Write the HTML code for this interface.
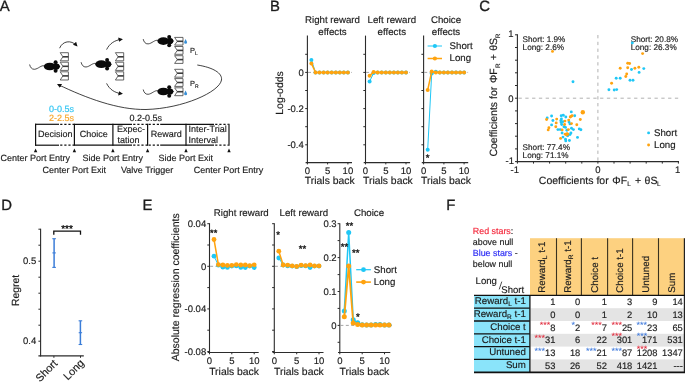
<!DOCTYPE html>
<html lang="en">
<head>
<meta charset="utf-8">
<title>Figure</title>
<style>
html,body{margin:0;padding:0;background:#fff;}
body{width:685px;height:382px;overflow:hidden;font-family:"Liberation Sans",sans-serif;}
svg{display:block;}
svg text{font-family:"Liberation Sans",sans-serif;text-rendering:geometricPrecision;stroke-width:0.2px;stroke-opacity:0.8;}
</style>
</head>
<body>
<svg width="685" height="382" viewBox="0 0 685 382">
<rect x="0" y="0" width="685" height="382" fill="#ffffff"/>
<text x="-0.2" y="10.7" font-size="14.9" text-anchor="start" fill="#1c1c1c" stroke="#1c1c1c" style="stroke-width:0.4px;stroke-opacity:0.8">A</text>
<text x="269.9" y="10.7" font-size="14.9" text-anchor="start" fill="#1c1c1c" stroke="#1c1c1c" style="stroke-width:0.4px;stroke-opacity:0.8">B</text>
<text x="479.2" y="10.7" font-size="14.9" text-anchor="start" fill="#1c1c1c" stroke="#1c1c1c" style="stroke-width:0.4px;stroke-opacity:0.8">C</text>
<text x="1.3" y="210.1" font-size="14.9" text-anchor="start" fill="#1c1c1c" stroke="#1c1c1c" style="stroke-width:0.4px;stroke-opacity:0.8">D</text>
<text x="142.6" y="210.1" font-size="14.9" text-anchor="start" fill="#1c1c1c" stroke="#1c1c1c" style="stroke-width:0.4px;stroke-opacity:0.8">E</text>
<text x="446.3" y="210.1" font-size="14.9" text-anchor="start" fill="#1c1c1c" stroke="#1c1c1c" style="stroke-width:0.4px;stroke-opacity:0.8">F</text>
<path d="M60.2,52.7 L68.4,52.7 L68.4,60.8 L60.2,60.8 L62.9,56.8 Z" stroke="#4a4a4a" stroke-width="0.85" fill="#fff" stroke-linejoin="miter"/>
<line x1="62.7" y1="56.8" x2="68.4" y2="56.8" stroke="#3a3a3a" stroke-width="1.6"/>
<path d="M60.2,62.2 L68.4,62.2 L68.4,70.4 L60.2,70.4 L62.9,66.3 Z" stroke="#4a4a4a" stroke-width="0.85" fill="#fff" stroke-linejoin="miter"/>
<line x1="62.7" y1="66.3" x2="68.4" y2="66.3" stroke="#3a3a3a" stroke-width="1.6"/>
<path d="M60.2,71.8 L68.4,71.8 L68.4,80.0 L60.2,80.0 L62.9,75.9 Z" stroke="#4a4a4a" stroke-width="0.85" fill="#fff" stroke-linejoin="miter"/>
<line x1="62.7" y1="75.9" x2="68.4" y2="75.9" stroke="#3a3a3a" stroke-width="1.6"/>
<path d="M115.4,52.7 L123.7,52.7 L123.7,60.8 L115.4,60.8 L118.1,56.8 Z" stroke="#4a4a4a" stroke-width="0.85" fill="#fff" stroke-linejoin="miter"/>
<line x1="117.9" y1="56.8" x2="123.7" y2="56.8" stroke="#3a3a3a" stroke-width="1.6"/>
<path d="M115.4,62.2 L123.7,62.2 L123.7,70.4 L115.4,70.4 L118.1,66.3 Z" stroke="#4a4a4a" stroke-width="0.85" fill="#fff" stroke-linejoin="miter"/>
<line x1="117.9" y1="66.3" x2="123.7" y2="66.3" stroke="#3a3a3a" stroke-width="1.6"/>
<path d="M115.4,71.8 L123.7,71.8 L123.7,80.0 L115.4,80.0 L118.1,75.9 Z" stroke="#4a4a4a" stroke-width="0.85" fill="#fff" stroke-linejoin="miter"/>
<line x1="117.9" y1="75.9" x2="123.7" y2="75.9" stroke="#3a3a3a" stroke-width="1.6"/>
<path d="M174.6,37.4 L183.0,37.4 L183.0,45.1 L174.6,45.1 L177.3,41.3 Z" stroke="#4a4a4a" stroke-width="0.85" fill="#fff" stroke-linejoin="miter"/>
<line x1="177.1" y1="41.3" x2="183.0" y2="41.3" stroke="#3a3a3a" stroke-width="1.6"/>
<path d="M174.6,46.5 L183.0,46.5 L183.0,54.3 L174.6,54.3 L177.3,50.4 Z" stroke="#4a4a4a" stroke-width="0.85" fill="#fff" stroke-linejoin="miter"/>
<line x1="177.1" y1="50.4" x2="183.0" y2="50.4" stroke="#3a3a3a" stroke-width="1.6"/>
<path d="M174.6,55.7 L183.0,55.7 L183.0,63.4 L174.6,63.4 L177.3,59.6 Z" stroke="#4a4a4a" stroke-width="0.85" fill="#fff" stroke-linejoin="miter"/>
<line x1="177.1" y1="59.6" x2="183.0" y2="59.6" stroke="#3a3a3a" stroke-width="1.6"/>
<path d="M174.6,69.3 L183.0,69.3 L183.0,77.2 L174.6,77.2 L177.3,73.2 Z" stroke="#4a4a4a" stroke-width="0.85" fill="#fff" stroke-linejoin="miter"/>
<line x1="177.1" y1="73.2" x2="183.0" y2="73.2" stroke="#3a3a3a" stroke-width="1.6"/>
<path d="M174.6,78.6 L183.0,78.6 L183.0,86.4 L174.6,86.4 L177.3,82.5 Z" stroke="#4a4a4a" stroke-width="0.85" fill="#fff" stroke-linejoin="miter"/>
<line x1="177.1" y1="82.5" x2="183.0" y2="82.5" stroke="#3a3a3a" stroke-width="1.6"/>
<path d="M174.6,87.8 L183.0,87.8 L183.0,95.7 L174.6,95.7 L177.3,91.7 Z" stroke="#4a4a4a" stroke-width="0.85" fill="#fff" stroke-linejoin="miter"/>
<line x1="177.1" y1="91.7" x2="183.0" y2="91.7" stroke="#3a3a3a" stroke-width="1.6"/>
<g transform="translate(44.0,66.5)">
<path d="M0.6,-0.7 C-3,-1.6 -5.5,2.4 -9.5,2.8 C-12.3,3 -13.8,0.6 -14.4,-2.0" stroke="#111" stroke-width="0.75" fill="none"/>
<ellipse cx="5.8" cy="0" rx="6.0" ry="3.85" fill="#0a0a0a"/>
<ellipse cx="12.3" cy="0" rx="3.4" ry="3.1" fill="#0a0a0a"/>
<circle cx="11.6" cy="-4.2" r="2.0" fill="#0a0a0a"/>
<circle cx="11.6" cy="4.2" r="2.0" fill="#0a0a0a"/>
<path d="M13.5,-2.8 L16.3,0 L13.5,2.8 Z" fill="#0a0a0a"/>
</g>
<g transform="translate(95.5,64.2)">
<path d="M0.6,-0.7 C-3,-1.6 -5.5,2.4 -9.5,2.8 C-12.3,3 -13.8,0.6 -14.4,-2.0" stroke="#111" stroke-width="0.75" fill="none"/>
<ellipse cx="5.8" cy="0" rx="6.0" ry="3.85" fill="#0a0a0a"/>
<ellipse cx="12.3" cy="0" rx="3.4" ry="3.1" fill="#0a0a0a"/>
<circle cx="11.6" cy="-4.2" r="2.0" fill="#0a0a0a"/>
<circle cx="11.6" cy="4.2" r="2.0" fill="#0a0a0a"/>
<path d="M13.5,-2.8 L16.3,0 L13.5,2.8 Z" fill="#0a0a0a"/>
</g>
<g transform="translate(157.6,41.1)">
<path d="M0.6,-0.7 C-3,-1.6 -5.5,2.4 -9.5,2.8 C-12.3,3 -13.8,0.6 -14.4,-2.0" stroke="#111" stroke-width="0.75" fill="none"/>
<ellipse cx="5.8" cy="0" rx="6.0" ry="3.85" fill="#0a0a0a"/>
<ellipse cx="12.3" cy="0" rx="3.4" ry="3.1" fill="#0a0a0a"/>
<circle cx="11.6" cy="-4.2" r="2.0" fill="#0a0a0a"/>
<circle cx="11.6" cy="4.2" r="2.0" fill="#0a0a0a"/>
<path d="M13.5,-2.8 L16.3,0 L13.5,2.8 Z" fill="#0a0a0a"/>
</g>
<g transform="translate(157.6,91.5)">
<path d="M0.6,-0.7 C-3,-1.6 -5.5,2.4 -9.5,2.8 C-12.3,3 -13.8,0.6 -14.4,-2.0" stroke="#111" stroke-width="0.75" fill="none"/>
<ellipse cx="5.8" cy="0" rx="6.0" ry="3.85" fill="#0a0a0a"/>
<ellipse cx="12.3" cy="0" rx="3.4" ry="3.1" fill="#0a0a0a"/>
<circle cx="11.6" cy="-4.2" r="2.0" fill="#0a0a0a"/>
<circle cx="11.6" cy="4.2" r="2.0" fill="#0a0a0a"/>
<path d="M13.5,-2.8 L16.3,0 L13.5,2.8 Z" fill="#0a0a0a"/>
</g>
<defs><marker id="ah" viewBox="0 0 10 10" refX="7" refY="5" markerWidth="5.6" markerHeight="5.6" orient="auto"><path d="M0,0 L10,5 L0,10 Z" fill="#111"/></marker></defs>
<path d="M59.6,48.2 C62.5,41 71,39.5 76.6,45.6" stroke="#111" stroke-width="0.8" fill="none" marker-end="url(#ah)"/>
<path d="M106.6,49.6 C109.5,43.5 115,40 121.6,39.4" stroke="#111" stroke-width="0.8" fill="none" marker-end="url(#ah)"/>
<path d="M106.6,83.4 C109.5,89.5 115,93 121.6,93.6" stroke="#111" stroke-width="0.8" fill="none" marker-end="url(#ah)"/>
<path d="M197.3,65 C213,67.5 222.5,73 221.5,80 C219.5,92 183,108.5 146,109.5 C118,110 86,98 58.2,84.6" stroke="#111" stroke-width="0.8" fill="none" marker-end="url(#ah)"/>
<path d="M185.6,38.9 C186.2,40.5 187.1,41.3 187.1,42.2 A1.5,1.5 0 1 1 184.1,42.2 C184.1,41.3 185.0,40.5 185.6,38.9 Z" fill="#3A90D6"/>
<path d="M185.6,90.4 C186.2,92.0 187.1,92.8 187.1,93.7 A1.5,1.5 0 1 1 184.1,93.7 C184.1,92.8 185.0,92.0 185.6,90.4 Z" fill="#3A90D6"/>
<text x="190.1" y="53.2" font-size="7.4" text-anchor="start" fill="#1c1c1c" stroke="#1c1c1c">P<tspan font-size="5" dy="1.9">L</tspan></text>
<text x="190.1" y="85.7" font-size="7.4" text-anchor="start" fill="#1c1c1c" stroke="#1c1c1c">P<tspan font-size="5" dy="1.9">R</tspan></text>
<text x="49.0" y="111.6" font-size="9.0" text-anchor="start" fill="#2EC4F3" stroke="#2EC4F3">0-0.5s</text>
<text x="49.0" y="120.8" font-size="9.0" text-anchor="start" fill="#F7A72B" stroke="#F7A72B">2-2.5s</text>
<text x="129.5" y="120.8" font-size="9.0" text-anchor="start" fill="#1c1c1c" stroke="#1c1c1c">0.2-0.5s</text>
<line x1="35.0" y1="124.3" x2="59.0" y2="124.3" stroke="#111" stroke-width="1.2"/>
<line x1="60.2" y1="124.3" x2="74.4" y2="124.3" stroke="#111" stroke-width="1.2" stroke-dasharray="2.2 1.9"/>
<line x1="74.4" y1="124.3" x2="132.0" y2="124.3" stroke="#111" stroke-width="1.2"/>
<line x1="133.2" y1="124.3" x2="147.5" y2="124.3" stroke="#111" stroke-width="1.2" stroke-dasharray="2.2 1.9"/>
<line x1="148.6" y1="124.3" x2="160.2" y2="124.3" stroke="#111" stroke-width="1.2" stroke-dasharray="2.2 1.9"/>
<line x1="160.2" y1="124.3" x2="214.0" y2="124.3" stroke="#111" stroke-width="1.2"/>
<line x1="215.2" y1="124.3" x2="228.6" y2="124.3" stroke="#111" stroke-width="1.2" stroke-dasharray="2.2 1.9"/>
<line x1="35.0" y1="145.2" x2="59.0" y2="145.2" stroke="#111" stroke-width="1.2"/>
<line x1="60.2" y1="145.2" x2="74.4" y2="145.2" stroke="#111" stroke-width="1.2" stroke-dasharray="2.2 1.9"/>
<line x1="74.4" y1="145.2" x2="132.0" y2="145.2" stroke="#111" stroke-width="1.2"/>
<line x1="133.2" y1="145.2" x2="147.5" y2="145.2" stroke="#111" stroke-width="1.2" stroke-dasharray="2.2 1.9"/>
<line x1="148.6" y1="145.2" x2="160.2" y2="145.2" stroke="#111" stroke-width="1.2" stroke-dasharray="2.2 1.9"/>
<line x1="160.2" y1="145.2" x2="214.0" y2="145.2" stroke="#111" stroke-width="1.2"/>
<line x1="215.2" y1="145.2" x2="228.6" y2="145.2" stroke="#111" stroke-width="1.2" stroke-dasharray="2.2 1.9"/>
<line x1="35.6" y1="123.7" x2="35.6" y2="145.8" stroke="#111" stroke-width="1.2"/>
<path d="M35.6,148.4 L37.3,152.3 L33.9,152.3 Z" fill="#111"/>
<line x1="74.4" y1="123.7" x2="74.4" y2="145.8" stroke="#111" stroke-width="1.2"/>
<path d="M74.4,148.4 L76.1,152.3 L72.7,152.3 Z" fill="#111"/>
<line x1="112.9" y1="123.7" x2="112.9" y2="145.8" stroke="#111" stroke-width="1.2"/>
<path d="M112.9,148.4 L114.6,152.3 L111.2,152.3 Z" fill="#111"/>
<line x1="147.6" y1="123.7" x2="147.6" y2="145.8" stroke="#111" stroke-width="1.2"/>
<path d="M147.6,148.4 L149.3,152.3 L145.9,152.3 Z" fill="#111"/>
<line x1="186.0" y1="123.7" x2="186.0" y2="145.8" stroke="#111" stroke-width="1.2"/>
<path d="M186.0,148.4 L187.7,152.3 L184.3,152.3 Z" fill="#111"/>
<line x1="229.0" y1="123.7" x2="229.0" y2="145.8" stroke="#111" stroke-width="1.2"/>
<path d="M229.0,148.4 L230.7,152.3 L227.3,152.3 Z" fill="#111"/>
<text x="38.0" y="137.4" font-size="9.0" text-anchor="start" fill="#1c1c1c" stroke="#1c1c1c">Decision</text>
<text x="79.8" y="137.4" font-size="9.0" text-anchor="start" fill="#1c1c1c" stroke="#1c1c1c">Choice</text>
<text x="117.0" y="132.0" font-size="9.0" text-anchor="start" fill="#1c1c1c" stroke="#1c1c1c">Expec-</text>
<text x="117.4" y="142.5" font-size="9.0" text-anchor="start" fill="#1c1c1c" stroke="#1c1c1c">tation</text>
<text x="150.7" y="137.4" font-size="9.0" text-anchor="start" fill="#1c1c1c" stroke="#1c1c1c">Reward</text>
<text x="188.6" y="132.0" font-size="9.0" text-anchor="start" fill="#1c1c1c" stroke="#1c1c1c">Inter-Trial</text>
<text x="188.6" y="142.5" font-size="9.0" text-anchor="start" fill="#1c1c1c" stroke="#1c1c1c">Interval</text>
<text x="0.6" y="160.5" font-size="9.0" text-anchor="start" fill="#1c1c1c" stroke="#1c1c1c">Center Port Entry</text>
<text x="82.6" y="160.5" font-size="9.0" text-anchor="start" fill="#1c1c1c" stroke="#1c1c1c">Side Port Entry</text>
<text x="158.6" y="160.5" font-size="9.0" text-anchor="start" fill="#1c1c1c" stroke="#1c1c1c">Side Port Exit</text>
<text x="42.5" y="173.4" font-size="9.0" text-anchor="start" fill="#1c1c1c" stroke="#1c1c1c">Center Port Exit</text>
<text x="121.0" y="173.4" font-size="9.0" text-anchor="start" fill="#1c1c1c" stroke="#1c1c1c">Valve Trigger</text>
<text x="193.8" y="173.4" font-size="9.0" text-anchor="start" fill="#1c1c1c" stroke="#1c1c1c">Center Port Entry</text>
<text x="332.5" y="22.6" font-size="9.7" text-anchor="middle" fill="#1c1c1c" stroke="#1c1c1c">Right reward</text>
<text x="332.5" y="34.6" font-size="9.7" text-anchor="middle" fill="#1c1c1c" stroke="#1c1c1c">effects</text>
<text x="391.8" y="22.6" font-size="9.7" text-anchor="middle" fill="#1c1c1c" stroke="#1c1c1c">Left reward</text>
<text x="391.8" y="34.6" font-size="9.7" text-anchor="middle" fill="#1c1c1c" stroke="#1c1c1c">effects</text>
<text x="446.0" y="22.6" font-size="9.7" text-anchor="middle" fill="#1c1c1c" stroke="#1c1c1c">Choice</text>
<text x="446.0" y="34.6" font-size="9.7" text-anchor="middle" fill="#1c1c1c" stroke="#1c1c1c">effects</text>
<text transform="translate(283.0,93.0) rotate(-90)" font-size="10.4" text-anchor="middle" fill="#1c1c1c" stroke="#1c1c1c">Log-odds</text>
<line x1="307.4" y1="35.6" x2="307.4" y2="163.2" stroke="#2b2b2b" stroke-width="1.1"/>
<line x1="305.6" y1="162.6" x2="352.0" y2="162.6" stroke="#2b2b2b" stroke-width="1.1"/>
<line x1="305.2" y1="54.3" x2="307.4" y2="54.3" stroke="#2b2b2b" stroke-width="1.0"/>
<line x1="305.2" y1="72.4" x2="307.4" y2="72.4" stroke="#2b2b2b" stroke-width="1.0"/>
<line x1="305.2" y1="90.5" x2="307.4" y2="90.5" stroke="#2b2b2b" stroke-width="1.0"/>
<line x1="305.2" y1="108.6" x2="307.4" y2="108.6" stroke="#2b2b2b" stroke-width="1.0"/>
<line x1="305.2" y1="126.7" x2="307.4" y2="126.7" stroke="#2b2b2b" stroke-width="1.0"/>
<line x1="305.2" y1="144.8" x2="307.4" y2="144.8" stroke="#2b2b2b" stroke-width="1.0"/>
<line x1="307.4" y1="162.6" x2="307.4" y2="164.4" stroke="#2b2b2b" stroke-width="1.0"/>
<text x="307.4" y="174.3" font-size="9.5" text-anchor="middle" fill="#1c1c1c" stroke="#1c1c1c">0</text>
<line x1="327.6" y1="162.6" x2="327.6" y2="164.4" stroke="#2b2b2b" stroke-width="1.0"/>
<text x="327.6" y="174.3" font-size="9.5" text-anchor="middle" fill="#1c1c1c" stroke="#1c1c1c">5</text>
<line x1="347.9" y1="162.6" x2="347.9" y2="164.4" stroke="#2b2b2b" stroke-width="1.0"/>
<text x="347.9" y="174.3" font-size="9.5" text-anchor="middle" fill="#1c1c1c" stroke="#1c1c1c">10</text>
<text x="329.8" y="184.4" font-size="10.4" text-anchor="middle" fill="#1c1c1c" stroke="#1c1c1c">Trials back</text>
<line x1="308.0" y1="72.4" x2="351.9" y2="72.4" stroke="#9a9a9a" stroke-width="0.9" stroke-dasharray="3 2.4"/>
<text x="303.8" y="75.7" font-size="9.5" text-anchor="end" fill="#1c1c1c" stroke="#1c1c1c">0</text>
<text x="303.8" y="111.9" font-size="9.5" text-anchor="end" fill="#1c1c1c" stroke="#1c1c1c">-0.2</text>
<text x="303.8" y="148.1" font-size="9.5" text-anchor="end" fill="#1c1c1c" stroke="#1c1c1c">-0.4</text>
<path d="M311.4,59.9 L315.5,72.4 L319.5,72.4 L323.6,72.4 L327.6,72.4 L331.7,72.4 L335.8,72.4 L339.8,72.4 L343.8,72.4 L347.9,72.4" stroke="#1FC7F6" stroke-width="1.0" fill="none" stroke-linejoin="round"/>
<circle cx="311.4" cy="59.9" r="2.0" fill="#1FC7F6"/>
<circle cx="315.5" cy="72.4" r="2.0" fill="#1FC7F6"/>
<circle cx="319.5" cy="72.4" r="2.0" fill="#1FC7F6"/>
<circle cx="323.6" cy="72.4" r="2.0" fill="#1FC7F6"/>
<circle cx="327.6" cy="72.4" r="2.0" fill="#1FC7F6"/>
<circle cx="331.7" cy="72.4" r="2.0" fill="#1FC7F6"/>
<circle cx="335.8" cy="72.4" r="2.0" fill="#1FC7F6"/>
<circle cx="339.8" cy="72.4" r="2.0" fill="#1FC7F6"/>
<circle cx="343.8" cy="72.4" r="2.0" fill="#1FC7F6"/>
<circle cx="347.9" cy="72.4" r="2.0" fill="#1FC7F6"/>
<path d="M311.4,63.4 L315.5,72.4 L319.5,72.4 L323.6,72.4 L327.6,72.4 L331.7,72.4 L335.8,72.4 L339.8,72.4 L343.8,72.4 L347.9,72.4" stroke="#FFA30F" stroke-width="1.5" fill="none" stroke-linejoin="round"/>
<circle cx="311.4" cy="63.4" r="2.0" fill="#FFA30F"/>
<circle cx="315.5" cy="72.4" r="2.0" fill="#FFA30F"/>
<circle cx="319.5" cy="72.4" r="2.0" fill="#FFA30F"/>
<circle cx="323.6" cy="72.4" r="2.0" fill="#FFA30F"/>
<circle cx="327.6" cy="72.4" r="2.0" fill="#FFA30F"/>
<circle cx="331.7" cy="72.4" r="2.0" fill="#FFA30F"/>
<circle cx="335.8" cy="72.4" r="2.0" fill="#FFA30F"/>
<circle cx="339.8" cy="72.4" r="2.0" fill="#FFA30F"/>
<circle cx="343.8" cy="72.4" r="2.0" fill="#FFA30F"/>
<circle cx="347.9" cy="72.4" r="2.0" fill="#FFA30F"/>
<line x1="365.5" y1="35.6" x2="365.5" y2="163.2" stroke="#2b2b2b" stroke-width="1.1"/>
<line x1="363.7" y1="162.6" x2="410.1" y2="162.6" stroke="#2b2b2b" stroke-width="1.1"/>
<line x1="363.3" y1="54.3" x2="365.5" y2="54.3" stroke="#2b2b2b" stroke-width="1.0"/>
<line x1="363.3" y1="72.4" x2="365.5" y2="72.4" stroke="#2b2b2b" stroke-width="1.0"/>
<line x1="363.3" y1="90.5" x2="365.5" y2="90.5" stroke="#2b2b2b" stroke-width="1.0"/>
<line x1="363.3" y1="108.6" x2="365.5" y2="108.6" stroke="#2b2b2b" stroke-width="1.0"/>
<line x1="363.3" y1="126.7" x2="365.5" y2="126.7" stroke="#2b2b2b" stroke-width="1.0"/>
<line x1="363.3" y1="144.8" x2="365.5" y2="144.8" stroke="#2b2b2b" stroke-width="1.0"/>
<line x1="365.5" y1="162.6" x2="365.5" y2="164.4" stroke="#2b2b2b" stroke-width="1.0"/>
<text x="365.5" y="174.3" font-size="9.5" text-anchor="middle" fill="#1c1c1c" stroke="#1c1c1c">0</text>
<line x1="385.8" y1="162.6" x2="385.8" y2="164.4" stroke="#2b2b2b" stroke-width="1.0"/>
<text x="385.8" y="174.3" font-size="9.5" text-anchor="middle" fill="#1c1c1c" stroke="#1c1c1c">5</text>
<line x1="406.0" y1="162.6" x2="406.0" y2="164.4" stroke="#2b2b2b" stroke-width="1.0"/>
<text x="406.0" y="174.3" font-size="9.5" text-anchor="middle" fill="#1c1c1c" stroke="#1c1c1c">10</text>
<text x="387.9" y="184.4" font-size="10.4" text-anchor="middle" fill="#1c1c1c" stroke="#1c1c1c">Trials back</text>
<line x1="366.1" y1="72.4" x2="410.0" y2="72.4" stroke="#9a9a9a" stroke-width="0.9" stroke-dasharray="3 2.4"/>
<path d="M369.6,81.5 L373.6,73.1 L377.6,72.4 L381.7,72.4 L385.8,72.4 L389.8,72.4 L393.9,72.4 L397.9,72.4 L401.9,72.4 L406.0,72.4" stroke="#1FC7F6" stroke-width="1.0" fill="none" stroke-linejoin="round"/>
<circle cx="369.6" cy="81.5" r="2.0" fill="#1FC7F6"/>
<circle cx="373.6" cy="73.1" r="2.0" fill="#1FC7F6"/>
<circle cx="377.6" cy="72.4" r="2.0" fill="#1FC7F6"/>
<circle cx="381.7" cy="72.4" r="2.0" fill="#1FC7F6"/>
<circle cx="385.8" cy="72.4" r="2.0" fill="#1FC7F6"/>
<circle cx="389.8" cy="72.4" r="2.0" fill="#1FC7F6"/>
<circle cx="393.9" cy="72.4" r="2.0" fill="#1FC7F6"/>
<circle cx="397.9" cy="72.4" r="2.0" fill="#1FC7F6"/>
<circle cx="401.9" cy="72.4" r="2.0" fill="#1FC7F6"/>
<circle cx="406.0" cy="72.4" r="2.0" fill="#1FC7F6"/>
<path d="M369.6,75.8 L373.6,71.9 L377.6,72.4 L381.7,72.4 L385.8,72.4 L389.8,72.4 L393.9,72.4 L397.9,72.4 L401.9,72.4 L406.0,72.4" stroke="#FFA30F" stroke-width="1.5" fill="none" stroke-linejoin="round"/>
<circle cx="369.6" cy="75.8" r="2.0" fill="#FFA30F"/>
<circle cx="373.6" cy="71.9" r="2.0" fill="#FFA30F"/>
<circle cx="377.6" cy="72.4" r="2.0" fill="#FFA30F"/>
<circle cx="381.7" cy="72.4" r="2.0" fill="#FFA30F"/>
<circle cx="385.8" cy="72.4" r="2.0" fill="#FFA30F"/>
<circle cx="389.8" cy="72.4" r="2.0" fill="#FFA30F"/>
<circle cx="393.9" cy="72.4" r="2.0" fill="#FFA30F"/>
<circle cx="397.9" cy="72.4" r="2.0" fill="#FFA30F"/>
<circle cx="401.9" cy="72.4" r="2.0" fill="#FFA30F"/>
<circle cx="406.0" cy="72.4" r="2.0" fill="#FFA30F"/>
<line x1="423.6" y1="35.6" x2="423.6" y2="163.2" stroke="#2b2b2b" stroke-width="1.1"/>
<line x1="421.8" y1="162.6" x2="468.2" y2="162.6" stroke="#2b2b2b" stroke-width="1.1"/>
<line x1="421.4" y1="54.3" x2="423.6" y2="54.3" stroke="#2b2b2b" stroke-width="1.0"/>
<line x1="421.4" y1="72.4" x2="423.6" y2="72.4" stroke="#2b2b2b" stroke-width="1.0"/>
<line x1="421.4" y1="90.5" x2="423.6" y2="90.5" stroke="#2b2b2b" stroke-width="1.0"/>
<line x1="421.4" y1="108.6" x2="423.6" y2="108.6" stroke="#2b2b2b" stroke-width="1.0"/>
<line x1="421.4" y1="126.7" x2="423.6" y2="126.7" stroke="#2b2b2b" stroke-width="1.0"/>
<line x1="421.4" y1="144.8" x2="423.6" y2="144.8" stroke="#2b2b2b" stroke-width="1.0"/>
<line x1="423.6" y1="162.6" x2="423.6" y2="164.4" stroke="#2b2b2b" stroke-width="1.0"/>
<text x="423.6" y="174.3" font-size="9.5" text-anchor="middle" fill="#1c1c1c" stroke="#1c1c1c">0</text>
<line x1="443.9" y1="162.6" x2="443.9" y2="164.4" stroke="#2b2b2b" stroke-width="1.0"/>
<text x="443.9" y="174.3" font-size="9.5" text-anchor="middle" fill="#1c1c1c" stroke="#1c1c1c">5</text>
<line x1="464.1" y1="162.6" x2="464.1" y2="164.4" stroke="#2b2b2b" stroke-width="1.0"/>
<text x="464.1" y="174.3" font-size="9.5" text-anchor="middle" fill="#1c1c1c" stroke="#1c1c1c">10</text>
<text x="446.0" y="184.4" font-size="10.4" text-anchor="middle" fill="#1c1c1c" stroke="#1c1c1c">Trials back</text>
<line x1="424.2" y1="72.4" x2="468.1" y2="72.4" stroke="#9a9a9a" stroke-width="0.9" stroke-dasharray="3 2.4"/>
<path d="M427.7,149.7 L431.7,73.5 L435.8,71.7 L439.8,72.4 L443.9,72.4 L447.9,72.4 L452.0,72.4 L456.0,72.4 L460.1,72.4 L464.1,72.4" stroke="#1FC7F6" stroke-width="1.0" fill="none" stroke-linejoin="round"/>
<circle cx="427.7" cy="149.7" r="2.0" fill="#1FC7F6"/>
<circle cx="431.7" cy="73.5" r="2.0" fill="#1FC7F6"/>
<circle cx="435.8" cy="71.7" r="2.0" fill="#1FC7F6"/>
<circle cx="439.8" cy="72.4" r="2.0" fill="#1FC7F6"/>
<circle cx="443.9" cy="72.4" r="2.0" fill="#1FC7F6"/>
<circle cx="447.9" cy="72.4" r="2.0" fill="#1FC7F6"/>
<circle cx="452.0" cy="72.4" r="2.0" fill="#1FC7F6"/>
<circle cx="456.0" cy="72.4" r="2.0" fill="#1FC7F6"/>
<circle cx="460.1" cy="72.4" r="2.0" fill="#1FC7F6"/>
<circle cx="464.1" cy="72.4" r="2.0" fill="#1FC7F6"/>
<path d="M427.7,90.0 L431.7,71.5 L435.8,72.4 L439.8,72.4 L443.9,72.4 L447.9,72.4 L452.0,72.4 L456.0,72.4 L460.1,72.4 L464.1,72.4" stroke="#FFA30F" stroke-width="1.5" fill="none" stroke-linejoin="round"/>
<circle cx="427.7" cy="90.0" r="2.0" fill="#FFA30F"/>
<circle cx="431.7" cy="71.5" r="2.0" fill="#FFA30F"/>
<circle cx="435.8" cy="72.4" r="2.0" fill="#FFA30F"/>
<circle cx="439.8" cy="72.4" r="2.0" fill="#FFA30F"/>
<circle cx="443.9" cy="72.4" r="2.0" fill="#FFA30F"/>
<circle cx="447.9" cy="72.4" r="2.0" fill="#FFA30F"/>
<circle cx="452.0" cy="72.4" r="2.0" fill="#FFA30F"/>
<circle cx="456.0" cy="72.4" r="2.0" fill="#FFA30F"/>
<circle cx="460.1" cy="72.4" r="2.0" fill="#FFA30F"/>
<circle cx="464.1" cy="72.4" r="2.0" fill="#FFA30F"/>
<text x="427.6" y="160.9" font-size="9.6" text-anchor="middle" fill="#111" stroke="#111" style="stroke-width:0.32px;stroke-opacity:1">*</text>
<line x1="427.6" y1="46.0" x2="442.0" y2="46.0" stroke="#1FC7F6" stroke-width="1.0"/>
<circle cx="434.9" cy="46.0" r="2.1" fill="#1FC7F6"/>
<text x="449.6" y="49.2" font-size="9.7" text-anchor="start" fill="#1c1c1c" stroke="#1c1c1c">Short</text>
<line x1="427.6" y1="58.5" x2="442.0" y2="58.5" stroke="#FFA30F" stroke-width="1.5"/>
<circle cx="434.9" cy="58.5" r="2.1" fill="#FFA30F"/>
<text x="449.6" y="60.9" font-size="9.7" text-anchor="start" fill="#1c1c1c" stroke="#1c1c1c">Long</text>
<line x1="517.4" y1="34.2" x2="517.4" y2="162.2" stroke="#2b2b2b" stroke-width="1.1"/>
<line x1="516.8" y1="161.6" x2="679.0" y2="161.6" stroke="#2b2b2b" stroke-width="1.1"/>
<line x1="515.0" y1="34.8" x2="517.4" y2="34.8" stroke="#2b2b2b" stroke-width="1.0"/>
<line x1="517.4" y1="161.6" x2="517.4" y2="163.6" stroke="#2b2b2b" stroke-width="1.0"/>
<line x1="515.0" y1="47.5" x2="517.4" y2="47.5" stroke="#2b2b2b" stroke-width="1.0"/>
<line x1="533.5" y1="161.6" x2="533.5" y2="163.6" stroke="#2b2b2b" stroke-width="1.0"/>
<line x1="515.0" y1="60.2" x2="517.4" y2="60.2" stroke="#2b2b2b" stroke-width="1.0"/>
<line x1="549.6" y1="161.6" x2="549.6" y2="163.6" stroke="#2b2b2b" stroke-width="1.0"/>
<line x1="515.0" y1="72.8" x2="517.4" y2="72.8" stroke="#2b2b2b" stroke-width="1.0"/>
<line x1="565.7" y1="161.6" x2="565.7" y2="163.6" stroke="#2b2b2b" stroke-width="1.0"/>
<line x1="515.0" y1="85.5" x2="517.4" y2="85.5" stroke="#2b2b2b" stroke-width="1.0"/>
<line x1="581.8" y1="161.6" x2="581.8" y2="163.6" stroke="#2b2b2b" stroke-width="1.0"/>
<line x1="515.0" y1="98.2" x2="517.4" y2="98.2" stroke="#2b2b2b" stroke-width="1.0"/>
<line x1="597.9" y1="161.6" x2="597.9" y2="163.6" stroke="#2b2b2b" stroke-width="1.0"/>
<line x1="515.0" y1="110.9" x2="517.4" y2="110.9" stroke="#2b2b2b" stroke-width="1.0"/>
<line x1="614.0" y1="161.6" x2="614.0" y2="163.6" stroke="#2b2b2b" stroke-width="1.0"/>
<line x1="515.0" y1="123.6" x2="517.4" y2="123.6" stroke="#2b2b2b" stroke-width="1.0"/>
<line x1="630.1" y1="161.6" x2="630.1" y2="163.6" stroke="#2b2b2b" stroke-width="1.0"/>
<line x1="515.0" y1="136.2" x2="517.4" y2="136.2" stroke="#2b2b2b" stroke-width="1.0"/>
<line x1="646.2" y1="161.6" x2="646.2" y2="163.6" stroke="#2b2b2b" stroke-width="1.0"/>
<line x1="515.0" y1="148.9" x2="517.4" y2="148.9" stroke="#2b2b2b" stroke-width="1.0"/>
<line x1="662.3" y1="161.6" x2="662.3" y2="163.6" stroke="#2b2b2b" stroke-width="1.0"/>
<line x1="515.0" y1="161.6" x2="517.4" y2="161.6" stroke="#2b2b2b" stroke-width="1.0"/>
<line x1="678.4" y1="161.6" x2="678.4" y2="163.6" stroke="#2b2b2b" stroke-width="1.0"/>
<line x1="518.5" y1="98.2" x2="679.0" y2="98.2" stroke="#a8a8a8" stroke-width="0.9" stroke-dasharray="3.3 3.5"/>
<line x1="597.9" y1="35.0" x2="597.9" y2="161.0" stroke="#a8a8a8" stroke-width="0.9" stroke-dasharray="3.3 3.5"/>
<text x="513.6" y="37.2" font-size="9.5" text-anchor="end" fill="#1c1c1c" stroke="#1c1c1c">1</text>
<text x="513.6" y="101.5" font-size="9.5" text-anchor="end" fill="#1c1c1c" stroke="#1c1c1c">0</text>
<text x="514.0" y="164.2" font-size="9.5" text-anchor="end" fill="#1c1c1c" stroke="#1c1c1c">-1</text>
<text x="514.8" y="172.7" font-size="9.5" text-anchor="middle" fill="#1c1c1c" stroke="#1c1c1c">-1</text>
<text x="597.9" y="172.7" font-size="9.5" text-anchor="middle" fill="#1c1c1c" stroke="#1c1c1c">0</text>
<text x="677.6" y="172.7" font-size="9.5" text-anchor="middle" fill="#1c1c1c" stroke="#1c1c1c">1</text>
<text transform="translate(538.8,183.9)" font-size="10.5" fill="#1c1c1c" stroke="#1c1c1c"><tspan x="0">Coefficients for</tspan><tspan x="73.5">ΦF</tspan><tspan x="88.5" dy="2.1" font-size="6.4">L</tspan><tspan x="96.3" dy="-2.1">+</tspan><tspan x="105.8">θS</tspan><tspan x="118.3" dy="2.1" font-size="6.4">L</tspan></text>
<text transform="translate(497.4,156.6) rotate(-90)" font-size="10.5" fill="#1c1c1c" stroke="#1c1c1c"><tspan x="0">Coefficients for</tspan><tspan x="73.5">ΦF</tspan><tspan x="88.5" dy="2.1" font-size="6.4">R</tspan><tspan x="96.3" dy="-2.1">+</tspan><tspan x="105.8">θS</tspan><tspan x="118.3" dy="2.1" font-size="6.4">R</tspan></text>
<text x="522.6" y="41.7" font-size="8.2" text-anchor="start" fill="#1c1c1c" stroke="#1c1c1c">Short: 1.9%</text>
<text x="522.6" y="49.9" font-size="8.2" text-anchor="start" fill="#1c1c1c" stroke="#1c1c1c">Long: 2.6%</text>
<text x="630.7" y="41.7" font-size="8.2" text-anchor="start" fill="#1c1c1c" stroke="#1c1c1c">Short: 20.8%</text>
<text x="630.7" y="49.9" font-size="8.2" text-anchor="start" fill="#1c1c1c" stroke="#1c1c1c">Long: 26.3%</text>
<text x="522.6" y="149.9" font-size="8.2" text-anchor="start" fill="#1c1c1c" stroke="#1c1c1c">Short: 77.4%</text>
<text x="522.6" y="157.8" font-size="8.2" text-anchor="start" fill="#1c1c1c" stroke="#1c1c1c">Long: 71.1%</text>
<circle cx="547.2" cy="118.0" r="1.45" fill="#1FC7F6"/>
<circle cx="551.6" cy="116.0" r="1.45" fill="#1FC7F6"/>
<circle cx="552.9" cy="120.5" r="1.45" fill="#1FC7F6"/>
<circle cx="551.6" cy="124.9" r="1.45" fill="#1FC7F6"/>
<circle cx="557.9" cy="129.6" r="1.45" fill="#1FC7F6"/>
<circle cx="561.2" cy="115.7" r="1.45" fill="#1FC7F6"/>
<circle cx="563.3" cy="115.3" r="1.45" fill="#1FC7F6"/>
<circle cx="565.8" cy="117.0" r="1.45" fill="#1FC7F6"/>
<circle cx="561.4" cy="118.9" r="1.45" fill="#1FC7F6"/>
<circle cx="560.8" cy="120.8" r="1.45" fill="#1FC7F6"/>
<circle cx="561.2" cy="122.6" r="1.45" fill="#1FC7F6"/>
<circle cx="563.0" cy="121.6" r="1.45" fill="#1FC7F6"/>
<circle cx="561.7" cy="124.5" r="1.45" fill="#1FC7F6"/>
<circle cx="564.0" cy="126.7" r="1.45" fill="#1FC7F6"/>
<circle cx="565.5" cy="127.4" r="1.45" fill="#1FC7F6"/>
<circle cx="562.1" cy="133.0" r="1.45" fill="#1FC7F6"/>
<circle cx="563.0" cy="137.1" r="1.45" fill="#1FC7F6"/>
<circle cx="565.5" cy="139.2" r="1.45" fill="#1FC7F6"/>
<circle cx="565.8" cy="140.9" r="1.45" fill="#1FC7F6"/>
<circle cx="569.4" cy="140.5" r="1.45" fill="#1FC7F6"/>
<circle cx="571.3" cy="111.9" r="1.45" fill="#1FC7F6"/>
<circle cx="574.7" cy="115.7" r="1.45" fill="#1FC7F6"/>
<circle cx="569.0" cy="122.0" r="1.45" fill="#1FC7F6"/>
<circle cx="570.0" cy="123.9" r="1.45" fill="#1FC7F6"/>
<circle cx="571.5" cy="128.3" r="1.45" fill="#1FC7F6"/>
<circle cx="573.4" cy="129.6" r="1.45" fill="#1FC7F6"/>
<circle cx="570.9" cy="133.0" r="1.45" fill="#1FC7F6"/>
<circle cx="570.0" cy="134.6" r="1.45" fill="#1FC7F6"/>
<circle cx="566.9" cy="130.2" r="1.45" fill="#1FC7F6"/>
<circle cx="567.7" cy="135.8" r="1.45" fill="#1FC7F6"/>
<circle cx="577.5" cy="137.4" r="1.45" fill="#1FC7F6"/>
<circle cx="579.3" cy="128.9" r="1.45" fill="#1FC7F6"/>
<circle cx="580.9" cy="129.8" r="1.45" fill="#1FC7F6"/>
<circle cx="560.2" cy="129.6" r="1.45" fill="#1FC7F6"/>
<circle cx="546.6" cy="119.5" r="1.45" fill="#FFA30F"/>
<circle cx="556.7" cy="119.1" r="1.45" fill="#FFA30F"/>
<circle cx="556.2" cy="122.9" r="1.45" fill="#FFA30F"/>
<circle cx="555.8" cy="126.7" r="1.45" fill="#FFA30F"/>
<circle cx="548.9" cy="127.7" r="1.45" fill="#FFA30F"/>
<circle cx="548.2" cy="129.9" r="1.45" fill="#FFA30F"/>
<circle cx="562.1" cy="129.9" r="1.45" fill="#FFA30F"/>
<circle cx="565.0" cy="121.1" r="1.45" fill="#FFA30F"/>
<circle cx="564.6" cy="124.5" r="1.45" fill="#FFA30F"/>
<circle cx="568.7" cy="120.1" r="1.45" fill="#FFA30F"/>
<circle cx="570.3" cy="117.0" r="1.45" fill="#FFA30F"/>
<circle cx="572.1" cy="115.7" r="1.45" fill="#FFA30F"/>
<circle cx="570.9" cy="116.4" r="1.45" fill="#FFA30F"/>
<circle cx="571.5" cy="123.6" r="1.45" fill="#FFA30F"/>
<circle cx="568.4" cy="129.6" r="1.45" fill="#FFA30F"/>
<circle cx="580.3" cy="119.5" r="1.45" fill="#FFA30F"/>
<circle cx="576.8" cy="124.8" r="1.45" fill="#FFA30F"/>
<circle cx="560.6" cy="138.4" r="1.45" fill="#FFA30F"/>
<circle cx="565.2" cy="134.2" r="1.45" fill="#FFA30F"/>
<circle cx="567.1" cy="133.7" r="1.45" fill="#FFA30F"/>
<circle cx="567.7" cy="134.2" r="1.45" fill="#FFA30F"/>
<circle cx="566.5" cy="135.0" r="1.45" fill="#FFA30F"/>
<circle cx="582.8" cy="112.2" r="2.2" fill="#FFA30F"/>
<circle cx="631.5" cy="69.5" r="1.45" fill="#1FC7F6"/>
<circle cx="643.8" cy="68.6" r="1.45" fill="#1FC7F6"/>
<circle cx="639.1" cy="72.4" r="1.45" fill="#1FC7F6"/>
<circle cx="616.2" cy="78.3" r="1.45" fill="#1FC7F6"/>
<circle cx="620.2" cy="78.3" r="1.45" fill="#1FC7F6"/>
<circle cx="630.0" cy="80.2" r="1.45" fill="#1FC7F6"/>
<circle cx="633.0" cy="80.2" r="1.45" fill="#1FC7F6"/>
<circle cx="608.9" cy="89.7" r="1.45" fill="#1FC7F6"/>
<circle cx="614.2" cy="90.0" r="1.45" fill="#1FC7F6"/>
<circle cx="616.7" cy="89.6" r="1.45" fill="#1FC7F6"/>
<circle cx="627.7" cy="63.3" r="1.45" fill="#FFA30F"/>
<circle cx="629.6" cy="63.5" r="1.45" fill="#FFA30F"/>
<circle cx="620.2" cy="68.2" r="1.45" fill="#FFA30F"/>
<circle cx="627.7" cy="67.7" r="1.45" fill="#FFA30F"/>
<circle cx="634.9" cy="68.2" r="1.45" fill="#FFA30F"/>
<circle cx="638.8" cy="67.3" r="1.45" fill="#FFA30F"/>
<circle cx="626.7" cy="74.0" r="1.45" fill="#FFA30F"/>
<circle cx="625.8" cy="76.5" r="1.45" fill="#FFA30F"/>
<circle cx="611.6" cy="83.3" r="1.45" fill="#FFA30F"/>
<circle cx="632.3" cy="42.9" r="1.45" fill="#1FC7F6"/>
<circle cx="642.6" cy="53.6" r="1.45" fill="#FFA30F"/>
<circle cx="573.0" cy="81.7" r="1.45" fill="#1FC7F6"/>
<circle cx="552.5" cy="51.4" r="1.45" fill="#FFA30F"/>
<circle cx="648.6" cy="132.9" r="1.45" fill="#1FC7F6"/>
<text x="654.0" y="136.3" font-size="9.7" text-anchor="start" fill="#1c1c1c" stroke="#1c1c1c">Short</text>
<circle cx="648.6" cy="145.0" r="1.45" fill="#FFA30F"/>
<text x="654.0" y="148.2" font-size="9.7" text-anchor="start" fill="#1c1c1c" stroke="#1c1c1c">Long</text>
<line x1="40.6" y1="228.7" x2="40.6" y2="356.5" stroke="#2b2b2b" stroke-width="1.1"/>
<line x1="38.4" y1="355.9" x2="83.8" y2="355.9" stroke="#2b2b2b" stroke-width="1.1"/>
<line x1="38.4" y1="229.2" x2="40.6" y2="229.2" stroke="#2b2b2b" stroke-width="1.0"/>
<line x1="38.4" y1="245.2" x2="40.6" y2="245.2" stroke="#2b2b2b" stroke-width="1.0"/>
<line x1="38.4" y1="261.2" x2="40.6" y2="261.2" stroke="#2b2b2b" stroke-width="1.0"/>
<line x1="38.4" y1="277.2" x2="40.6" y2="277.2" stroke="#2b2b2b" stroke-width="1.0"/>
<line x1="38.4" y1="293.2" x2="40.6" y2="293.2" stroke="#2b2b2b" stroke-width="1.0"/>
<line x1="38.4" y1="309.2" x2="40.6" y2="309.2" stroke="#2b2b2b" stroke-width="1.0"/>
<line x1="38.4" y1="325.2" x2="40.6" y2="325.2" stroke="#2b2b2b" stroke-width="1.0"/>
<line x1="38.4" y1="341.2" x2="40.6" y2="341.2" stroke="#2b2b2b" stroke-width="1.0"/>
<line x1="53.9" y1="355.9" x2="53.9" y2="357.8" stroke="#2b2b2b" stroke-width="1.0"/>
<line x1="80.5" y1="355.9" x2="80.5" y2="357.8" stroke="#2b2b2b" stroke-width="1.0"/>
<text x="36.2" y="264.4" font-size="9.5" text-anchor="end" fill="#1c1c1c" stroke="#1c1c1c">0.5</text>
<text x="36.2" y="343.6" font-size="9.5" text-anchor="end" fill="#1c1c1c" stroke="#1c1c1c">0.4</text>
<text transform="translate(18.9,290.4) rotate(-90)" font-size="10.4" text-anchor="middle" fill="#1c1c1c" stroke="#1c1c1c">Regret</text>
<text transform="translate(58.2,364.2) rotate(-45)" font-size="10.8" text-anchor="end" fill="#1c1c1c" stroke="#1c1c1c">Short</text>
<text transform="translate(84.8,363.8) rotate(-45)" font-size="10.8" text-anchor="end" fill="#1c1c1c" stroke="#1c1c1c">Long</text>
<path d="M53.8,234.8 L53.8,231.1 L80.5,231.1 L80.5,234.8" stroke="#111" stroke-width="1.3" fill="none"/>
<text x="67.0" y="232.0" font-size="10.0" text-anchor="middle" fill="#111" stroke="#111" style="stroke-width:0.32px;stroke-opacity:1">***</text>
<line x1="54.1" y1="238.7" x2="54.1" y2="267.4" stroke="#3B7DD8" stroke-width="1.5"/>
<line x1="52.3" y1="238.7" x2="55.9" y2="238.7" stroke="#3B7DD8" stroke-width="1.1"/>
<line x1="52.3" y1="267.4" x2="55.9" y2="267.4" stroke="#3B7DD8" stroke-width="1.1"/>
<line x1="52.4" y1="252.9" x2="55.8" y2="252.9" stroke="#3B7DD8" stroke-width="1.1"/>
<line x1="80.4" y1="320.8" x2="80.4" y2="344.5" stroke="#3B7DD8" stroke-width="1.5"/>
<line x1="78.6" y1="320.8" x2="82.2" y2="320.8" stroke="#3B7DD8" stroke-width="1.1"/>
<line x1="78.6" y1="344.5" x2="82.2" y2="344.5" stroke="#3B7DD8" stroke-width="1.1"/>
<line x1="78.7" y1="332.7" x2="82.1" y2="332.7" stroke="#3B7DD8" stroke-width="1.1"/>
<text x="241.3" y="215.8" font-size="9.7" text-anchor="middle" fill="#1c1c1c" stroke="#1c1c1c">Right reward</text>
<text x="303.8" y="215.8" font-size="9.7" text-anchor="middle" fill="#1c1c1c" stroke="#1c1c1c">Left reward</text>
<text x="369.0" y="215.8" font-size="9.7" text-anchor="middle" fill="#1c1c1c" stroke="#1c1c1c">Choice</text>
<text transform="translate(179.4,361.3) rotate(-90)" font-size="10.5" text-anchor="start" fill="#1c1c1c" stroke="#1c1c1c">Absolute regression coefficients</text>
<line x1="209.5" y1="223.2" x2="209.5" y2="353.1" stroke="#2b2b2b" stroke-width="1.1"/>
<line x1="207.7" y1="352.5" x2="258.7" y2="352.5" stroke="#2b2b2b" stroke-width="1.1"/>
<line x1="209.5" y1="352.5" x2="209.5" y2="354.3" stroke="#2b2b2b" stroke-width="1.0"/>
<text x="209.5" y="364.2" font-size="9.5" text-anchor="middle" fill="#1c1c1c" stroke="#1c1c1c">0</text>
<line x1="231.8" y1="352.5" x2="231.8" y2="354.3" stroke="#2b2b2b" stroke-width="1.0"/>
<text x="231.8" y="364.2" font-size="9.5" text-anchor="middle" fill="#1c1c1c" stroke="#1c1c1c">5</text>
<line x1="254.2" y1="352.5" x2="254.2" y2="354.3" stroke="#2b2b2b" stroke-width="1.0"/>
<text x="254.2" y="364.2" font-size="9.5" text-anchor="middle" fill="#1c1c1c" stroke="#1c1c1c">10</text>
<text x="234.1" y="374.6" font-size="10.4" text-anchor="middle" fill="#1c1c1c" stroke="#1c1c1c">Trials back</text>
<line x1="207.3" y1="223.7" x2="209.5" y2="223.7" stroke="#2b2b2b" stroke-width="1.0"/>
<line x1="207.3" y1="245.0" x2="209.5" y2="245.0" stroke="#2b2b2b" stroke-width="1.0"/>
<line x1="207.3" y1="266.3" x2="209.5" y2="266.3" stroke="#2b2b2b" stroke-width="1.0"/>
<line x1="207.3" y1="287.6" x2="209.5" y2="287.6" stroke="#2b2b2b" stroke-width="1.0"/>
<line x1="207.3" y1="308.9" x2="209.5" y2="308.9" stroke="#2b2b2b" stroke-width="1.0"/>
<line x1="207.3" y1="330.2" x2="209.5" y2="330.2" stroke="#2b2b2b" stroke-width="1.0"/>
<line x1="207.3" y1="351.5" x2="209.5" y2="351.5" stroke="#2b2b2b" stroke-width="1.0"/>
<line x1="210.1" y1="266.3" x2="258.5" y2="266.3" stroke="#9a9a9a" stroke-width="0.9" stroke-dasharray="3 2.4"/>
<line x1="274.3" y1="223.2" x2="274.3" y2="353.1" stroke="#2b2b2b" stroke-width="1.1"/>
<line x1="272.5" y1="352.5" x2="323.5" y2="352.5" stroke="#2b2b2b" stroke-width="1.1"/>
<line x1="274.3" y1="352.5" x2="274.3" y2="354.3" stroke="#2b2b2b" stroke-width="1.0"/>
<text x="274.3" y="364.2" font-size="9.5" text-anchor="middle" fill="#1c1c1c" stroke="#1c1c1c">0</text>
<line x1="296.7" y1="352.5" x2="296.7" y2="354.3" stroke="#2b2b2b" stroke-width="1.0"/>
<text x="296.7" y="364.2" font-size="9.5" text-anchor="middle" fill="#1c1c1c" stroke="#1c1c1c">5</text>
<line x1="319.0" y1="352.5" x2="319.0" y2="354.3" stroke="#2b2b2b" stroke-width="1.0"/>
<text x="319.0" y="364.2" font-size="9.5" text-anchor="middle" fill="#1c1c1c" stroke="#1c1c1c">10</text>
<text x="298.9" y="374.6" font-size="10.4" text-anchor="middle" fill="#1c1c1c" stroke="#1c1c1c">Trials back</text>
<line x1="272.1" y1="223.7" x2="274.3" y2="223.7" stroke="#2b2b2b" stroke-width="1.0"/>
<line x1="272.1" y1="245.0" x2="274.3" y2="245.0" stroke="#2b2b2b" stroke-width="1.0"/>
<line x1="272.1" y1="266.3" x2="274.3" y2="266.3" stroke="#2b2b2b" stroke-width="1.0"/>
<line x1="272.1" y1="287.6" x2="274.3" y2="287.6" stroke="#2b2b2b" stroke-width="1.0"/>
<line x1="272.1" y1="308.9" x2="274.3" y2="308.9" stroke="#2b2b2b" stroke-width="1.0"/>
<line x1="272.1" y1="330.2" x2="274.3" y2="330.2" stroke="#2b2b2b" stroke-width="1.0"/>
<line x1="272.1" y1="351.5" x2="274.3" y2="351.5" stroke="#2b2b2b" stroke-width="1.0"/>
<line x1="274.9" y1="266.3" x2="323.3" y2="266.3" stroke="#9a9a9a" stroke-width="0.9" stroke-dasharray="3 2.4"/>
<text x="206.2" y="227.0" font-size="9.5" text-anchor="end" fill="#1c1c1c" stroke="#1c1c1c">0.04</text>
<text x="206.2" y="269.6" font-size="9.5" text-anchor="end" fill="#1c1c1c" stroke="#1c1c1c">0</text>
<text x="206.2" y="312.2" font-size="9.5" text-anchor="end" fill="#1c1c1c" stroke="#1c1c1c">-0.04</text>
<text x="206.2" y="354.8" font-size="9.5" text-anchor="end" fill="#1c1c1c" stroke="#1c1c1c">-0.08</text>
<path d="M214.0,256.2 L218.4,265.2 L222.9,267.2 L227.4,267.4 L231.8,266.1 L236.3,265.9 L240.8,267.4 L245.3,267.6 L249.7,266.1 L254.2,267.6" stroke="#1FC7F6" stroke-width="1.0" fill="none" stroke-linejoin="round"/>
<circle cx="214.0" cy="256.2" r="2.4" fill="#1FC7F6"/>
<circle cx="218.4" cy="265.2" r="2.4" fill="#1FC7F6"/>
<circle cx="222.9" cy="267.2" r="2.4" fill="#1FC7F6"/>
<circle cx="227.4" cy="267.4" r="2.4" fill="#1FC7F6"/>
<circle cx="231.8" cy="266.1" r="2.4" fill="#1FC7F6"/>
<circle cx="236.3" cy="265.9" r="2.4" fill="#1FC7F6"/>
<circle cx="240.8" cy="267.4" r="2.4" fill="#1FC7F6"/>
<circle cx="245.3" cy="267.6" r="2.4" fill="#1FC7F6"/>
<circle cx="249.7" cy="266.1" r="2.4" fill="#1FC7F6"/>
<circle cx="254.2" cy="267.6" r="2.4" fill="#1FC7F6"/>
<path d="M214.0,239.5 L218.4,264.6 L222.9,265.0 L227.4,265.4 L231.8,265.4 L236.3,264.6 L240.8,265.0 L245.3,265.0 L249.7,265.7 L254.2,264.8" stroke="#FFA30F" stroke-width="1.5" fill="none" stroke-linejoin="round"/>
<circle cx="214.0" cy="239.5" r="2.4" fill="#FFA30F"/>
<circle cx="218.4" cy="264.6" r="2.4" fill="#FFA30F"/>
<circle cx="222.9" cy="265.0" r="2.4" fill="#FFA30F"/>
<circle cx="227.4" cy="265.4" r="2.4" fill="#FFA30F"/>
<circle cx="231.8" cy="265.4" r="2.4" fill="#FFA30F"/>
<circle cx="236.3" cy="264.6" r="2.4" fill="#FFA30F"/>
<circle cx="240.8" cy="265.0" r="2.4" fill="#FFA30F"/>
<circle cx="245.3" cy="265.0" r="2.4" fill="#FFA30F"/>
<circle cx="249.7" cy="265.7" r="2.4" fill="#FFA30F"/>
<circle cx="254.2" cy="264.8" r="2.4" fill="#FFA30F"/>
<text x="213.7" y="235.7" font-size="9.2" text-anchor="middle" fill="#111" stroke="#111" style="stroke-width:0.32px;stroke-opacity:1">**</text>
<path d="M278.8,258.0 L283.2,265.0 L287.7,265.9 L292.2,266.1 L296.7,266.7 L301.1,265.7 L305.6,265.9 L310.1,267.6 L314.5,266.1 L319.0,266.1" stroke="#1FC7F6" stroke-width="1.0" fill="none" stroke-linejoin="round"/>
<circle cx="278.8" cy="258.0" r="2.4" fill="#1FC7F6"/>
<circle cx="283.2" cy="265.0" r="2.4" fill="#1FC7F6"/>
<circle cx="287.7" cy="265.9" r="2.4" fill="#1FC7F6"/>
<circle cx="292.2" cy="266.1" r="2.4" fill="#1FC7F6"/>
<circle cx="296.7" cy="266.7" r="2.4" fill="#1FC7F6"/>
<circle cx="301.1" cy="265.7" r="2.4" fill="#1FC7F6"/>
<circle cx="305.6" cy="265.9" r="2.4" fill="#1FC7F6"/>
<circle cx="310.1" cy="267.6" r="2.4" fill="#1FC7F6"/>
<circle cx="314.5" cy="266.1" r="2.4" fill="#1FC7F6"/>
<circle cx="319.0" cy="266.1" r="2.4" fill="#1FC7F6"/>
<path d="M278.8,251.2 L283.2,265.0 L287.7,265.2 L292.2,265.9 L296.7,266.5 L301.1,265.2 L305.6,265.7 L310.1,265.0 L314.5,265.9 L319.0,265.9" stroke="#FFA30F" stroke-width="1.5" fill="none" stroke-linejoin="round"/>
<circle cx="278.8" cy="251.2" r="2.4" fill="#FFA30F"/>
<circle cx="283.2" cy="265.0" r="2.4" fill="#FFA30F"/>
<circle cx="287.7" cy="265.2" r="2.4" fill="#FFA30F"/>
<circle cx="292.2" cy="265.9" r="2.4" fill="#FFA30F"/>
<circle cx="296.7" cy="266.5" r="2.4" fill="#FFA30F"/>
<circle cx="301.1" cy="265.2" r="2.4" fill="#FFA30F"/>
<circle cx="305.6" cy="265.7" r="2.4" fill="#FFA30F"/>
<circle cx="310.1" cy="265.0" r="2.4" fill="#FFA30F"/>
<circle cx="314.5" cy="265.9" r="2.4" fill="#FFA30F"/>
<circle cx="319.0" cy="265.9" r="2.4" fill="#FFA30F"/>
<text x="278.0" y="237.9" font-size="9.6" text-anchor="middle" fill="#111" stroke="#111" style="stroke-width:0.32px;stroke-opacity:1">*</text>
<text x="302.5" y="252.4" font-size="9.6" text-anchor="middle" fill="#111" stroke="#111" style="stroke-width:0.32px;stroke-opacity:1">**</text>
<line x1="339.8" y1="223.2" x2="339.8" y2="353.1" stroke="#2b2b2b" stroke-width="1.1"/>
<line x1="338.0" y1="352.5" x2="390.3" y2="352.5" stroke="#2b2b2b" stroke-width="1.1"/>
<line x1="339.8" y1="352.5" x2="339.8" y2="354.3" stroke="#2b2b2b" stroke-width="1.0"/>
<text x="339.8" y="364.2" font-size="9.5" text-anchor="middle" fill="#1c1c1c" stroke="#1c1c1c">0</text>
<line x1="362.2" y1="352.5" x2="362.2" y2="354.3" stroke="#2b2b2b" stroke-width="1.0"/>
<text x="362.2" y="364.2" font-size="9.5" text-anchor="middle" fill="#1c1c1c" stroke="#1c1c1c">5</text>
<line x1="384.5" y1="352.5" x2="384.5" y2="354.3" stroke="#2b2b2b" stroke-width="1.0"/>
<text x="384.5" y="364.2" font-size="9.5" text-anchor="middle" fill="#1c1c1c" stroke="#1c1c1c">10</text>
<text x="364.4" y="374.6" font-size="10.4" text-anchor="middle" fill="#1c1c1c" stroke="#1c1c1c">Trials back</text>
<line x1="337.6" y1="223.7" x2="339.8" y2="223.7" stroke="#2b2b2b" stroke-width="1.0"/>
<line x1="337.6" y1="240.6" x2="339.8" y2="240.6" stroke="#2b2b2b" stroke-width="1.0"/>
<line x1="337.6" y1="257.6" x2="339.8" y2="257.6" stroke="#2b2b2b" stroke-width="1.0"/>
<line x1="337.6" y1="274.6" x2="339.8" y2="274.6" stroke="#2b2b2b" stroke-width="1.0"/>
<line x1="337.6" y1="291.5" x2="339.8" y2="291.5" stroke="#2b2b2b" stroke-width="1.0"/>
<line x1="337.6" y1="308.4" x2="339.8" y2="308.4" stroke="#2b2b2b" stroke-width="1.0"/>
<line x1="337.6" y1="325.4" x2="339.8" y2="325.4" stroke="#2b2b2b" stroke-width="1.0"/>
<line x1="337.6" y1="342.3" x2="339.8" y2="342.3" stroke="#2b2b2b" stroke-width="1.0"/>
<line x1="340.4" y1="325.4" x2="392.0" y2="325.4" stroke="#9a9a9a" stroke-width="0.9" stroke-dasharray="3 2.4"/>
<text x="336.6" y="227.0" font-size="9.5" text-anchor="end" fill="#1c1c1c" stroke="#1c1c1c">0.3</text>
<text x="336.6" y="260.9" font-size="9.5" text-anchor="end" fill="#1c1c1c" stroke="#1c1c1c">0.2</text>
<text x="336.6" y="294.8" font-size="9.5" text-anchor="end" fill="#1c1c1c" stroke="#1c1c1c">0.1</text>
<text x="336.6" y="328.7" font-size="9.5" text-anchor="end" fill="#1c1c1c" stroke="#1c1c1c">0</text>
<path d="M344.3,311.0 L348.7,232.5 L353.2,319.8 L357.7,322.7 L362.2,324.7 L366.6,325.1 L371.1,325.1 L375.6,324.4 L380.0,324.4 L384.5,325.1 L389.0,325.1" stroke="#1FC7F6" stroke-width="1.5" fill="none" stroke-linejoin="round"/>
<circle cx="344.3" cy="311.0" r="2.5" fill="#1FC7F6"/>
<circle cx="348.7" cy="232.5" r="2.5" fill="#1FC7F6"/>
<circle cx="353.2" cy="319.8" r="2.5" fill="#1FC7F6"/>
<circle cx="357.7" cy="322.7" r="2.5" fill="#1FC7F6"/>
<circle cx="362.2" cy="324.7" r="2.5" fill="#1FC7F6"/>
<circle cx="366.6" cy="325.1" r="2.5" fill="#1FC7F6"/>
<circle cx="371.1" cy="325.1" r="2.5" fill="#1FC7F6"/>
<circle cx="375.6" cy="324.4" r="2.5" fill="#1FC7F6"/>
<circle cx="380.0" cy="324.4" r="2.5" fill="#1FC7F6"/>
<circle cx="384.5" cy="325.1" r="2.5" fill="#1FC7F6"/>
<circle cx="389.0" cy="325.1" r="2.5" fill="#1FC7F6"/>
<path d="M344.3,316.7 L348.7,266.1 L353.2,323.0 L357.7,324.4 L362.2,325.1 L366.6,325.1 L371.1,325.1 L375.6,325.1 L380.0,325.1 L384.5,325.1 L389.0,325.1" stroke="#FFA30F" stroke-width="1.8" fill="none" stroke-linejoin="round"/>
<circle cx="344.3" cy="316.7" r="2.5" fill="#FFA30F"/>
<circle cx="348.7" cy="266.1" r="2.5" fill="#FFA30F"/>
<circle cx="353.2" cy="323.0" r="2.5" fill="#FFA30F"/>
<circle cx="357.7" cy="324.4" r="2.5" fill="#FFA30F"/>
<circle cx="362.2" cy="325.1" r="2.5" fill="#FFA30F"/>
<circle cx="366.6" cy="325.1" r="2.5" fill="#FFA30F"/>
<circle cx="371.1" cy="325.1" r="2.5" fill="#FFA30F"/>
<circle cx="375.6" cy="325.1" r="2.5" fill="#FFA30F"/>
<circle cx="380.0" cy="325.1" r="2.5" fill="#FFA30F"/>
<circle cx="384.5" cy="325.1" r="2.5" fill="#FFA30F"/>
<circle cx="389.0" cy="325.1" r="2.5" fill="#FFA30F"/>
<text x="349.5" y="229.0" font-size="9.6" text-anchor="middle" fill="#111" stroke="#111" style="stroke-width:0.32px;stroke-opacity:1">**</text>
<text x="344.5" y="249.7" font-size="9.6" text-anchor="middle" fill="#111" stroke="#111" style="stroke-width:0.32px;stroke-opacity:1">**</text>
<text x="355.8" y="256.4" font-size="9.6" text-anchor="middle" fill="#111" stroke="#111" style="stroke-width:0.32px;stroke-opacity:1">**</text>
<text x="357.9" y="320.0" font-size="9.6" text-anchor="middle" fill="#111" stroke="#111" style="stroke-width:0.32px;stroke-opacity:1">*</text>
<line x1="356.2" y1="269.7" x2="370.9" y2="269.7" stroke="#1FC7F6" stroke-width="1.2"/>
<circle cx="363.5" cy="269.7" r="2.4" fill="#1FC7F6"/>
<text x="373.8" y="273.1" font-size="9.7" text-anchor="start" fill="#1c1c1c" stroke="#1c1c1c">Short</text>
<line x1="356.2" y1="282.1" x2="370.9" y2="282.1" stroke="#FFA30F" stroke-width="1.6"/>
<circle cx="363.5" cy="282.1" r="2.4" fill="#FFA30F"/>
<text x="373.8" y="285.1" font-size="9.7" text-anchor="start" fill="#1c1c1c" stroke="#1c1c1c">Long</text>
<text x="472.8" y="233.7" font-size="8.9" text-anchor="start" fill="#1c1c1c" stroke="#1c1c1c"><tspan fill="#F5283C" stroke="#F5283C">Red stars</tspan>:</text>
<text x="472.8" y="244.7" font-size="8.9" text-anchor="start" fill="#1c1c1c" stroke="#1c1c1c">above null</text>
<text x="472.8" y="255.9" font-size="8.9" text-anchor="start" fill="#1c1c1c" stroke="#1c1c1c"><tspan fill="#2B2BF5" stroke="#2B2BF5">Blue stars</tspan> -</text>
<text x="472.8" y="267.0" font-size="8.9" text-anchor="start" fill="#1c1c1c" stroke="#1c1c1c">below null</text>
<text x="475.6" y="283.8" font-size="9.6" text-anchor="start" fill="#1c1c1c" stroke="#1c1c1c">Long</text>
<line x1="501.8" y1="281.6" x2="499.2" y2="289.4" stroke="#222" stroke-width="0.8"/>
<text x="501.3" y="293.2" font-size="9.55" text-anchor="start" fill="#1c1c1c" stroke="#1c1c1c">Short</text>
<rect x="530" y="238.2" width="155" height="57.2" fill="#FDD180"/>
<rect x="474" y="295.4" width="55.8" height="76.8" fill="#8AE4FA"/>
<rect x="530.4" y="308.2" width="154.6" height="12.8" fill="#E4E4E4"/>
<rect x="530.4" y="333.8" width="154.6" height="12.8" fill="#E4E4E4"/>
<rect x="530.4" y="359.4" width="154.6" height="12.8" fill="#E4E4E4"/>
<line x1="556.5" y1="238.2" x2="556.5" y2="295.4" stroke="#3a3220" stroke-width="1.1"/>
<line x1="581.4" y1="238.2" x2="581.4" y2="295.4" stroke="#3a3220" stroke-width="1.1"/>
<line x1="607.6" y1="238.2" x2="607.6" y2="295.4" stroke="#3a3220" stroke-width="1.1"/>
<line x1="632.6" y1="238.2" x2="632.6" y2="295.4" stroke="#3a3220" stroke-width="1.1"/>
<line x1="658.5" y1="238.2" x2="658.5" y2="295.4" stroke="#3a3220" stroke-width="1.1"/>
<line x1="684.4" y1="238.2" x2="684.4" y2="372.6" stroke="#222" stroke-width="1.2"/>
<line x1="474.0" y1="295.4" x2="685.0" y2="295.4" stroke="#111" stroke-width="1.3"/>
<line x1="474.0" y1="308.2" x2="529.8" y2="308.2" stroke="#111" stroke-width="1.3"/>
<line x1="474.0" y1="321.0" x2="529.8" y2="321.0" stroke="#111" stroke-width="1.3"/>
<line x1="474.0" y1="333.8" x2="529.8" y2="333.8" stroke="#111" stroke-width="1.3"/>
<line x1="474.0" y1="346.6" x2="529.8" y2="346.6" stroke="#111" stroke-width="1.3"/>
<line x1="474.0" y1="359.4" x2="529.8" y2="359.4" stroke="#111" stroke-width="1.3"/>
<line x1="474.0" y1="372.4" x2="685.0" y2="372.4" stroke="#111" stroke-width="1.6"/>
<line x1="529.9" y1="295.4" x2="529.9" y2="372.4" stroke="#111" stroke-width="1.3"/>
<text transform="translate(545.3,292.8) rotate(-90)" font-size="9.75" text-anchor="start" fill="#1c1c1c" stroke="#1c1c1c">Reward<tspan font-size="6.5" dy="2.0">L</tspan><tspan dy="-2.0"> t-1</tspan></text>
<text transform="translate(570.9,292.8) rotate(-90)" font-size="9.75" text-anchor="start" fill="#1c1c1c" stroke="#1c1c1c">Reward<tspan font-size="6.5" dy="2.0">R</tspan><tspan dy="-2.0"> t-1</tspan></text>
<text transform="translate(598.0,292.8) rotate(-90)" font-size="9.75" text-anchor="start" fill="#1c1c1c" stroke="#1c1c1c">Choice t</text>
<text transform="translate(622.9,292.8) rotate(-90)" font-size="9.75" text-anchor="start" fill="#1c1c1c" stroke="#1c1c1c">Choice t-1</text>
<text transform="translate(649.3,292.8) rotate(-90)" font-size="9.75" text-anchor="start" fill="#1c1c1c" stroke="#1c1c1c">Untuned</text>
<text transform="translate(674.5,292.8) rotate(-90)" font-size="9.75" text-anchor="start" fill="#1c1c1c" stroke="#1c1c1c">Sum</text>
<text x="525.8" y="304.1" font-size="9.7" text-anchor="end" fill="#1c1c1c" stroke="#1c1c1c">Reward<tspan font-size="6.5" dy="2.0">L</tspan><tspan dy="-2.0"> t-1</tspan></text>
<text x="525.8" y="316.9" font-size="9.7" text-anchor="end" fill="#1c1c1c" stroke="#1c1c1c">Reward<tspan font-size="6.5" dy="2.0">R</tspan><tspan dy="-2.0"> t-1</tspan></text>
<text x="525.8" y="329.7" font-size="9.7" text-anchor="end" fill="#1c1c1c" stroke="#1c1c1c">Choice t</text>
<text x="525.8" y="342.5" font-size="9.7" text-anchor="end" fill="#1c1c1c" stroke="#1c1c1c">Choice t-1</text>
<text x="525.8" y="355.3" font-size="9.7" text-anchor="end" fill="#1c1c1c" stroke="#1c1c1c">Untuned</text>
<text x="525.8" y="368.1" font-size="9.7" text-anchor="end" fill="#1c1c1c" stroke="#1c1c1c">Sum</text>
<text x="555.5" y="305.0" font-size="9.35" text-anchor="end" fill="#1c1c1c" stroke="#1c1c1c">1</text>
<text x="580.3" y="305.0" font-size="9.35" text-anchor="end" fill="#1c1c1c" stroke="#1c1c1c">0</text>
<text x="607.0" y="305.0" font-size="9.35" text-anchor="end" fill="#1c1c1c" stroke="#1c1c1c">1</text>
<text x="632.3" y="305.0" font-size="9.35" text-anchor="end" fill="#1c1c1c" stroke="#1c1c1c">3</text>
<text x="657.5" y="305.0" font-size="9.35" text-anchor="end" fill="#1c1c1c" stroke="#1c1c1c">9</text>
<text x="682.8" y="305.0" font-size="9.35" text-anchor="end" fill="#1c1c1c" stroke="#1c1c1c">14</text>
<text x="555.5" y="317.8" font-size="9.35" text-anchor="end" fill="#1c1c1c" stroke="#1c1c1c">0</text>
<text x="580.3" y="317.8" font-size="9.35" text-anchor="end" fill="#1c1c1c" stroke="#1c1c1c">0</text>
<text x="607.0" y="317.8" font-size="9.35" text-anchor="end" fill="#1c1c1c" stroke="#1c1c1c">1</text>
<text x="632.3" y="317.8" font-size="9.35" text-anchor="end" fill="#1c1c1c" stroke="#1c1c1c">2</text>
<text x="657.5" y="317.8" font-size="9.35" text-anchor="end" fill="#1c1c1c" stroke="#1c1c1c">10</text>
<text x="682.8" y="317.8" font-size="9.35" text-anchor="end" fill="#1c1c1c" stroke="#1c1c1c">13</text>
<text x="555.5" y="330.6" font-size="9.35" text-anchor="end" fill="#1c1c1c" stroke="#1c1c1c"><tspan fill="#E0283A" stroke="#E0283A" dy="-2.4" font-size="9.0" style="stroke-width:0.05px">***</tspan><tspan dy="2.4">8</tspan></text>
<text x="580.3" y="330.6" font-size="9.35" text-anchor="end" fill="#1c1c1c" stroke="#1c1c1c"><tspan fill="#3C78DC" stroke="#3C78DC" dy="-2.4" font-size="9.0" style="stroke-width:0.05px">*</tspan><tspan dy="2.4">2</tspan></text>
<text x="607.0" y="330.6" font-size="9.35" text-anchor="end" fill="#1c1c1c" stroke="#1c1c1c"><tspan fill="#E0283A" stroke="#E0283A" dy="-2.4" font-size="9.0" style="stroke-width:0.05px">***</tspan><tspan dy="2.4">7</tspan></text>
<text x="632.3" y="330.6" font-size="9.35" text-anchor="end" fill="#1c1c1c" stroke="#1c1c1c"><tspan fill="#E0283A" stroke="#E0283A" dy="-2.4" font-size="9.0" style="stroke-width:0.05px">***</tspan><tspan dy="2.4">25</tspan></text>
<text x="657.5" y="330.6" font-size="9.35" text-anchor="end" fill="#1c1c1c" stroke="#1c1c1c"><tspan fill="#3C78DC" stroke="#3C78DC" dy="-2.4" font-size="9.0" style="stroke-width:0.05px">***</tspan><tspan dy="2.4">23</tspan></text>
<text x="682.8" y="330.6" font-size="9.35" text-anchor="end" fill="#1c1c1c" stroke="#1c1c1c">65</text>
<text x="555.5" y="343.4" font-size="9.35" text-anchor="end" fill="#1c1c1c" stroke="#1c1c1c"><tspan fill="#E0283A" stroke="#E0283A" dy="-2.4" font-size="9.0" style="stroke-width:0.05px">***</tspan><tspan dy="2.4">31</tspan></text>
<text x="580.3" y="343.4" font-size="9.35" text-anchor="end" fill="#1c1c1c" stroke="#1c1c1c">6</text>
<text x="607.0" y="343.4" font-size="9.35" text-anchor="end" fill="#1c1c1c" stroke="#1c1c1c">22</text>
<text x="632.3" y="343.4" font-size="9.35" text-anchor="end" fill="#1c1c1c" stroke="#1c1c1c">301</text>
<text x="622.0" y="339.0" font-size="9.0" text-anchor="end" fill="#E0283A" stroke="#E0283A" style="stroke-width:0.05px">***</text>
<text x="657.5" y="343.4" font-size="9.35" text-anchor="end" fill="#1c1c1c" stroke="#1c1c1c">171</text>
<text x="647.2" y="339.0" font-size="9.0" text-anchor="end" fill="#3C78DC" stroke="#3C78DC" style="stroke-width:0.05px">***</text>
<text x="682.8" y="343.4" font-size="9.35" text-anchor="end" fill="#1c1c1c" stroke="#1c1c1c">531</text>
<text x="555.5" y="356.2" font-size="9.35" text-anchor="end" fill="#1c1c1c" stroke="#1c1c1c"><tspan fill="#3C78DC" stroke="#3C78DC" dy="-2.4" font-size="9.0" style="stroke-width:0.05px">***</tspan><tspan dy="2.4">13</tspan></text>
<text x="580.3" y="356.2" font-size="9.35" text-anchor="end" fill="#1c1c1c" stroke="#1c1c1c">18</text>
<text x="607.0" y="356.2" font-size="9.35" text-anchor="end" fill="#1c1c1c" stroke="#1c1c1c"><tspan fill="#3C78DC" stroke="#3C78DC" dy="-2.4" font-size="9.0" style="stroke-width:0.05px">***</tspan><tspan dy="2.4">21</tspan></text>
<text x="632.3" y="356.2" font-size="9.35" text-anchor="end" fill="#1c1c1c" stroke="#1c1c1c"><tspan fill="#3C78DC" stroke="#3C78DC" dy="-2.4" font-size="9.0" style="stroke-width:0.05px">***</tspan><tspan dy="2.4">87</tspan></text>
<text x="657.5" y="356.2" font-size="9.35" text-anchor="end" fill="#1c1c1c" stroke="#1c1c1c">1208</text>
<text x="647.2" y="351.8" font-size="9.0" text-anchor="end" fill="#E0283A" stroke="#E0283A" style="stroke-width:0.05px">***</text>
<text x="682.8" y="356.2" font-size="9.35" text-anchor="end" fill="#1c1c1c" stroke="#1c1c1c">1347</text>
<text x="555.5" y="369.0" font-size="9.35" text-anchor="end" fill="#1c1c1c" stroke="#1c1c1c">53</text>
<text x="580.3" y="369.0" font-size="9.35" text-anchor="end" fill="#1c1c1c" stroke="#1c1c1c">26</text>
<text x="607.0" y="369.0" font-size="9.35" text-anchor="end" fill="#1c1c1c" stroke="#1c1c1c">52</text>
<text x="632.3" y="369.0" font-size="9.35" text-anchor="end" fill="#1c1c1c" stroke="#1c1c1c">418</text>
<text x="657.5" y="369.0" font-size="9.35" text-anchor="end" fill="#1c1c1c" stroke="#1c1c1c">1421</text>
<text x="682.8" y="369.0" font-size="9.35" text-anchor="end" fill="#1c1c1c" stroke="#1c1c1c">---</text>
</svg>
</body>
</html>
